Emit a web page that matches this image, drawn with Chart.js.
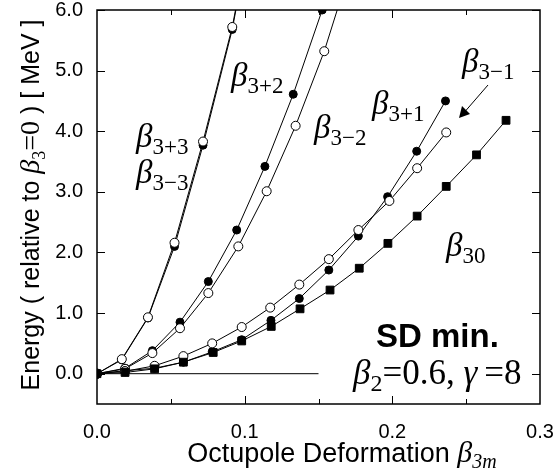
<!DOCTYPE html>
<html>
<head>
<meta charset="utf-8">
<script src="https://cdn.jsdelivr.net/npm/chart.js@4.4.1/dist/chart.umd.min.js"></script>
<style>
  html, body { margin: 0; padding: 0; background: #fff; }
  #wrap { width: 555px; height: 476px; }
</style>
</head>
<body>
<div id="wrap"><canvas id="chart" width="555" height="476"></canvas></div>
<script>
// Valori: beta3m e energia (MeV)
const xK3 = [0, 0.0168, 0.0345, 0.0525, 0.0718, 0.0916, 0.111];
const yK3plus = [0, 0.23, 0.92, 2.10, 3.77, 5.68, 8.2];
const yK3minus = [0, 0.24, 0.93, 2.16, 3.83, 5.72, 8.2];

const xK2plus = [0, 0.019, 0.0375, 0.0562, 0.0754, 0.0946, 0.1137, 0.1329, 0.1525, 0.172];
const yK2plus = [0, 0.09, 0.38, 0.85, 1.52, 2.37, 3.42, 4.61, 6.0, 7.5];
const xK2minus = [0, 0.019, 0.0375, 0.0562, 0.0754, 0.0957, 0.1149, 0.1345, 0.1539, 0.173];
const yK2minus = [0, 0.08, 0.34, 0.75, 1.33, 2.10, 3.01, 4.09, 5.32, 6.8];

const xK1plus = [0, 0.019, 0.039, 0.0585, 0.078, 0.098, 0.1178, 0.137, 0.157, 0.177, 0.1968, 0.2165, 0.236];
const yK1plus = [0, 0.05, 0.09, 0.19, 0.36, 0.56, 0.88, 1.24, 1.71, 2.27, 2.92, 3.67, 4.50];
const xK1minus = [0, 0.019, 0.039, 0.0585, 0.078, 0.098, 0.1173, 0.137, 0.157, 0.177, 0.198, 0.2168, 0.2365];
const yK1minus = [0, 0.04, 0.13, 0.29, 0.50, 0.77, 1.09, 1.47, 1.89, 2.37, 2.85, 3.39, 3.98];

const xK0 = [0, 0.019, 0.039, 0.0585, 0.0787, 0.098, 0.118, 0.1375, 0.1578, 0.1776, 0.197, 0.2168, 0.2365, 0.257, 0.277];
const yK0 = [0, 0.02, 0.08, 0.19, 0.35, 0.54, 0.78, 1.07, 1.38, 1.74, 2.15, 2.60, 3.09, 3.61, 4.18];

const xZero = [0, 0.15];
const yZero = [0, 0];

const xTicks = [0, 0.1, 0.2, 0.3];
const yTicks = [0, 1, 2, 3, 4, 5, 6];

const sans = '"Liberation Sans", Arial, sans-serif';
const serif = '"Liberation Serif", "Times New Roman", serif';

const pts = (xs, ys) => xs.map((x, i) => ({ x: x, y: ys[i] }));

function serie(xs, ys, style, fill, r) {
  return {
    data: pts(xs, ys),
    showLine: true,
    borderColor: '#000',
    borderWidth: 1,
    pointStyle: style,
    pointRadius: r,
    pointHoverRadius: r,
    pointBackgroundColor: fill,
    pointBorderColor: '#000',
    pointBorderWidth: 1
  };
}

// testo con pedici: parts = [testo, font, dy]
function drawRich(ctx, parts, x, y, align, angle) {
  ctx.save();
  ctx.translate(x, y);
  if (angle) ctx.rotate(angle);
  ctx.textAlign = 'left';
  ctx.textBaseline = 'alphabetic';
  ctx.fillStyle = '#000';
  let total = 0;
  const widths = parts.map(p => {
    ctx.font = p[1];
    const w = ctx.measureText(p[0]).width;
    total += w;
    return w;
  });
  let cx = align === 'center' ? -total / 2 : 0;
  parts.forEach((p, i) => {
    ctx.font = p[1];
    ctx.fillText(p[0], cx, p[2] || 0);
    cx += widths[i];
  });
  ctx.restore();
}

function betaLabel(ctx, sub, x, y) {
  drawRich(ctx, [['β', 'italic 33px ' + serif], [sub, '23px ' + serif, 7]], x, y);
}

const decorations = {
  id: 'decorations',
  afterDatasetsDraw(chart) {
    const ctx = chart.ctx;
    const a = chart.chartArea;
    const xs = chart.scales.x, ys = chart.scales.y;

    // cornice e tacche verso l'interno
    ctx.save();
    ctx.strokeStyle = '#000';
    ctx.lineWidth = 1.5;
    ctx.strokeRect(a.left, a.top, a.right - a.left, a.bottom - a.top);
    ctx.lineWidth = 1;
    ctx.beginPath();
    for (let v = 0.05; v < 0.3; v += 0.05) {
      const px = Math.round(xs.getPixelForValue(v)) + 0.5;
      const len = Math.abs(v * 10 - Math.round(v * 10)) < 0.01 ? 8 : 5;
      ctx.moveTo(px, a.bottom); ctx.lineTo(px, a.bottom - len);
      ctx.moveTo(px, a.top); ctx.lineTo(px, a.top + len);
    }
    yTicks.forEach(v => {
      const py = Math.round(ys.getPixelForValue(v)) + 0.5;
      ctx.moveTo(a.left, py); ctx.lineTo(a.left + 8, py);
      ctx.moveTo(a.right, py); ctx.lineTo(a.right - 8, py);
    });
    ctx.stroke();

    // freccia verso beta3-1
    ctx.beginPath();
    ctx.moveTo(488, 85); ctx.lineTo(462, 115);
    ctx.stroke();
    ctx.beginPath();
    ctx.moveTo(459, 118); ctx.lineTo(462, 106); ctx.lineTo(466, 110); ctx.lineTo(470, 114);
    ctx.closePath();
    ctx.fillStyle = '#000';
    ctx.fill();
    ctx.restore();

    // etichette delle curve
    betaLabel(ctx, '3+3', 136, 147);
    betaLabel(ctx, '3\u22123', 136, 183);
    betaLabel(ctx, '3+2', 231, 86);
    betaLabel(ctx, '3\u22122', 314, 138);
    betaLabel(ctx, '3+1', 372, 114);
    betaLabel(ctx, '3\u22121', 462, 72);
    betaLabel(ctx, '30', 446, 256);

    drawRich(ctx, [['SD min.', 'bold 33px ' + sans]], 376, 347);
    drawRich(ctx, [
      ['β', 'italic 35px ' + serif], ['2', '24px ' + serif, 7],
      ['=0.6, ', '35px ' + serif], ['γ', 'italic 35px ' + serif], ['\u2009=8', '35px ' + serif]
    ], 353, 384);

    // titoli degli assi
    drawRich(ctx, [
      ['Octupole Deformation ', '27px ' + sans],
      ['β', 'italic 30px ' + serif], ['3m', 'italic 20px ' + serif, 6]
    ], 342, 462, 'center');
    drawRich(ctx, [
      ['Energy ( relative to ', '25px ' + sans],
      ['β', 'italic 28px ' + serif], ['3', '18px ' + serif, 6],
      ['=0', '28px ' + serif], [' ) [ MeV ]', '25px ' + sans]
    ], 39, 205, 'center', -Math.PI / 2);
  }
};

new Chart(document.getElementById('chart'), {
  type: 'scatter',
  data: {
    datasets: [
      serie(xK0, yK0, 'rect', '#000', 5.5),
      serie(xK1minus, yK1minus, 'circle', '#fff', 4.5),
      serie(xK1plus, yK1plus, 'circle', '#000', 4),
      serie(xK2minus, yK2minus, 'circle', '#fff', 4.5),
      serie(xK2plus, yK2plus, 'circle', '#000', 4),
      serie(xK3, yK3minus, 'circle', '#fff', 4.5),
      serie(xK3, yK3plus, 'circle', '#000', 4),
      serie(xZero, yZero, 'circle', '#000', 0)
    ]
  },
  options: {
    responsive: false,
    animation: false,
    events: [],
    layout: { padding: { left: 0, right: 15, top: 10, bottom: 0 } },
    plugins: { legend: { display: false }, tooltip: { enabled: false } },
    scales: {
      x: {
        type: 'linear', min: 0, max: 0.3,
        afterFit: s => { s.height = 72; },
        afterBuildTicks: s => { s.ticks = xTicks.map(v => ({ value: v })); },
        grid: { display: false, drawTicks: true, tickLength: 18 },
        border: { display: false },
        ticks: {
          padding: 0, color: '#000',
          font: { family: sans, size: 20, lineHeight: 1 },
          callback: v => (v === 0 ? '0.0' : v.toFixed(1))
        }
      },
      y: {
        type: 'linear', min: -0.5, max: 6.0,
        afterFit: s => { s.width = 97; },
        afterBuildTicks: s => { s.ticks = yTicks.map(v => ({ value: v })); },
        grid: { display: false, drawTicks: true, tickLength: 14 },
        border: { display: false },
        ticks: {
          padding: 0, color: '#000',
          font: { family: sans, size: 20, lineHeight: 1 },
          callback: v => v.toFixed(1)
        }
      }
    }
  },
  plugins: [decorations]
});
</script>
</body>
</html>
